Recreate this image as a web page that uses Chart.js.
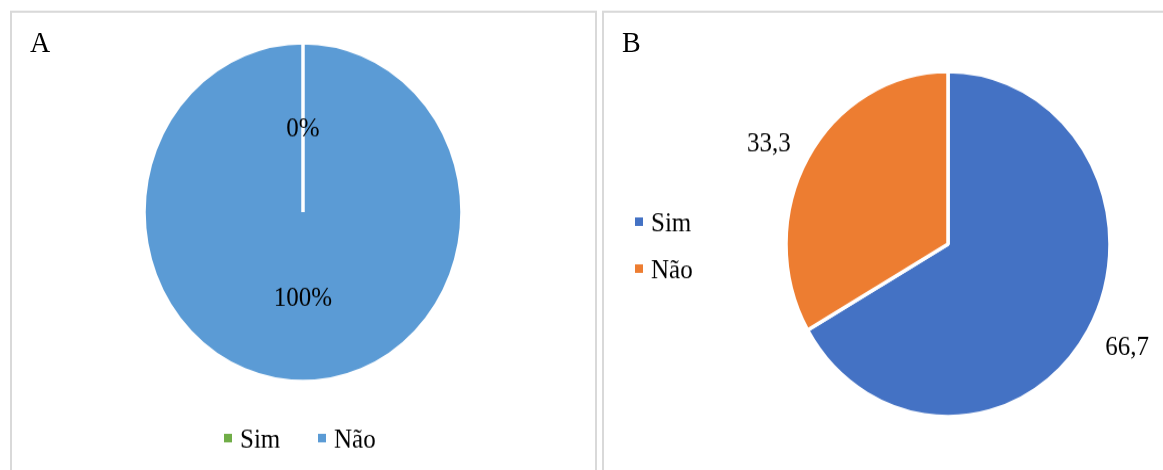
<!DOCTYPE html>
<html>
<head>
<meta charset="utf-8">
<script src="https://cdn.jsdelivr.net/npm/chart.js@4/dist/chart.umd.min.js"></script>
<style>
  html { overflow: hidden; }
  body { margin: 0; padding: 0; background: #fff; height: 470px; }
  #page {
    position: relative; width: 1163px; height: 441px; overflow: hidden;
    transform: scaleY(1.0658); transform-origin: 0 0;
    font-family: "Liberation Serif", "Times New Roman", serif;
  }
  .panel { position: absolute; top: 10px; height: 460px; border: 2px solid #d9d9d9; }
  #panelA { left: 10px; width: 583px; }
  #panelB { left: 602px; width: 600px; }
  .letter { position: absolute; font-size: 28px; line-height: 28px; color: #000; }
  canvas { position: absolute; left: 0; top: 0; }
</style>
</head>
<body>
<div id="page">
  <div class="panel" id="panelA">
    <canvas id="chartA" width="583" height="429"></canvas>
    <div class="letter" style="left:18px; top:14px;">A</div>
  </div>
  <div class="panel" id="panelB">
    <canvas id="chartB" width="560" height="429"></canvas>
    <div class="letter" style="left:18px; top:14px;">B</div>
  </div>
</div>
<script>
const labels = ["Sim", "Não"];
const valuesA = [0, 100];
const valuesB = [66.7, 33.3];
const colorsA = ["#70AD47", "#5B9BD5"];
const colorsB = ["#4472C4", "#ED7D31"];

const FONT = '25px "Liberation Serif", "Times New Roman", serif';

// draws the value labels on / around each slice
const sliceLabels = {
    id: 'sliceLabels',
    afterDatasetsDraw(chart, args, opts) {
        const ctx = chart.ctx;
        const meta = chart.getDatasetMeta(0);
        const values = chart.data.datasets[0].data;
        ctx.save();
        ctx.font = FONT;
        ctx.fillStyle = '#000';
        ctx.textAlign = 'center';
        ctx.textBaseline = 'alphabetic';
        meta.data.forEach((arc, i) => {
            const p = arc.getProps(['x', 'y', 'startAngle', 'endAngle', 'outerRadius'], true);
            const mid = (p.startAngle + p.endAngle) / 2;
            let rx = p.outerRadius / 2, ry = p.outerRadius / 2;
            if (opts.outside) {
                rx = p.outerRadius + opts.offsetX;
                ry = p.outerRadius + opts.offsetY;
            }
            const txt = opts.format(values[i]);
            // baseline shifted so digits are centred on the point
            ctx.fillText(txt, p.x + Math.cos(mid) * rx, p.y + Math.sin(mid) * ry + 8.5);
        });
        ctx.restore();
    }
};

// small square-marker legend at fixed spots
const boxLegend = {
    id: 'boxLegend',
    afterDraw(chart, args, opts) {
        const ctx = chart.ctx;
        const ds = chart.data.datasets[0];
        ctx.save();
        ctx.font = FONT;
        ctx.textAlign = 'left';
        ctx.textBaseline = 'alphabetic';
        chart.data.labels.forEach((lab, i) => {
            const it = opts.items[i];
            ctx.fillStyle = ds.backgroundColor[i];
            ctx.fillRect(it.x - 4, it.y - 4, 8, 8);
            ctx.fillStyle = '#000';
            ctx.fillText(lab, it.x + 12, it.y + 8.5);
        });
        ctx.restore();
    }
};

function makePie(id, values, colors, radius, padding, labelOpts, legendItems) {
    return new Chart(document.getElementById(id), {
        type: 'pie',
        data: {
            labels,
            datasets: [{
                data: values,
                backgroundColor: colors,
                borderColor: '#fff',
                borderWidth: 3.5
            }]
        },
        options: {
            responsive: false,
            animation: false,
            radius: radius,
            layout: { padding },
            plugins: {
                legend: { display: false },
                tooltip: { enabled: false },
                sliceLabels: labelOpts,
                boxLegend: { items: legendItems }
            }
        },
        plugins: [sliceLabels, boxLegend]
    });
}

makePie('chartA', valuesA, colorsA, 159,
    { left: 131, right: 132, top: 27, bottom: 82 },
    { outside: false, format: v => v + '%' },
    [{ x: 216, y: 399 }, { x: 310, y: 399 }]);

makePie('chartB', valuesB, colorsB, 162,
    { left: 184, right: 56, top: 57, bottom: 52 },
    { outside: true, offsetX: 45, offsetY: 29, format: v => v.toFixed(1).replace('.', ',') },
    [{ x: 35, y: 196 }, { x: 35, y: 240 }]);
</script>
</body>
</html>
